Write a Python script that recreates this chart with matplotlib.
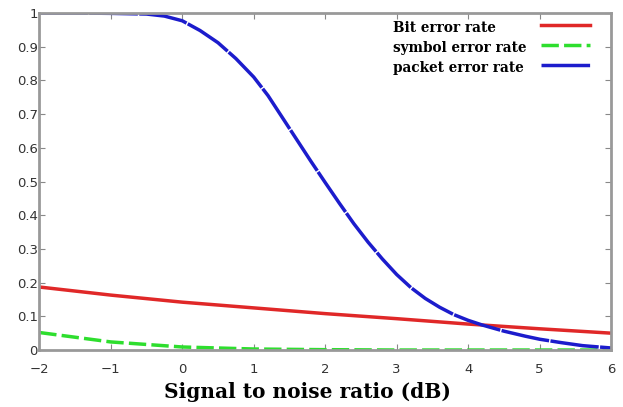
import numpy as np
import matplotlib.pyplot as plt
from matplotlib.lines import Line2D

# SNR (dB) and read-off error rates
snr = [-2, -1.5, -1, -0.5, -0.25, 0, 0.25, 0.5, 0.75, 1.0, 1.2, 1.4, 1.6, 1.8, 2.0,
       2.2, 2.4, 2.6, 2.8, 3.0, 3.2, 3.4, 3.6, 3.8, 4.0, 4.2, 4.5, 4.8, 5.0, 5.3, 5.6, 6.0]
packet_err = [1.0, 1.0, 0.999, 0.997, 0.991, 0.977, 0.948, 0.912, 0.865, 0.81, 0.755, 0.69, 0.625, 0.56, 0.497,
              0.435, 0.375, 0.32, 0.27, 0.224, 0.185, 0.153, 0.127, 0.105, 0.088, 0.074, 0.056, 0.041, 0.032, 0.022, 0.013, 0.006]

snr_lin = [-2, -1, 0, 1, 2, 3, 4, 5, 6]
bit_err = [0.187, 0.163, 0.142, 0.125, 0.108, 0.093, 0.077, 0.063, 0.05]
symbol_err = [0.052, 0.024, 0.009, 0.003, 0.001, 0.0, 0.0, 0.0, 0.0]

xticks = [-2, -1, 0, 1, 2, 3, 4, 5, 6]
yticks = [0, 0.1, 0.2, 0.3, 0.4, 0.5, 0.6, 0.7, 0.8, 0.9, 1]
ytick_labels = ['0', '0.1', '0.2', '0.3', '0.4', '0.5', '0.6', '0.7', '0.8', '0.9', '1']

labels = ['Bit error rate', 'symbol error rate', 'packet error rate']
colors = ['#e02828', '#2ede2e', '#1c1ccc']
styles = ['-', (0, (5, 1.5)), (0, (14, 0.4))]

fig = plt.figure(figsize=(6.23, 4.07), dpi=100)
ax = fig.add_axes([0.063, 0.14, 0.918, 0.828])

ax.plot(snr_lin, bit_err, color=colors[0], lw=2.5, ls=styles[0])
ax.plot(snr_lin, symbol_err, color=colors[1], lw=2.5, ls=styles[1])
ax.plot(snr, packet_err, color=colors[2], lw=2.5, ls=styles[2])

ax.set_xlim(-2, 6)
ax.set_ylim(0, 1)
ax.set_xticks(xticks)
ax.set_yticks(yticks)
ax.set_yticklabels(ytick_labels)
ax.tick_params(direction='in', top=True, right=True, length=4, color='#888888',
               labelsize=9.5, labelcolor='#333333')
ax.tick_params(axis='x', pad=9)
ax.tick_params(axis='y', pad=1)
for s in ax.spines.values():
    s.set_color('#999999')
    s.set_linewidth(2)

ax.set_xlabel('Signal to noise ratio (dB)', family='DejaVu Serif', fontweight='bold',
              fontsize=14.5)
ax.xaxis.set_label_coords(0.469, -0.095)

# legend: text left-aligned, line samples to the right
for i, (lab, c, st) in enumerate(zip(labels, colors, styles)):
    yy = 0.955 - i * 0.059
    ax.text(0.618, yy, lab, transform=ax.transAxes, family='DejaVu Serif',
            fontweight='bold', fontsize=9.8, va='center', ha='left')
    ax.add_line(Line2D([0.878, 0.963], [yy + 0.008, yy + 0.008], transform=ax.transAxes,
                       color=c, lw=2.5, ls=st))

plt.savefig('out.png', dpi=100)
